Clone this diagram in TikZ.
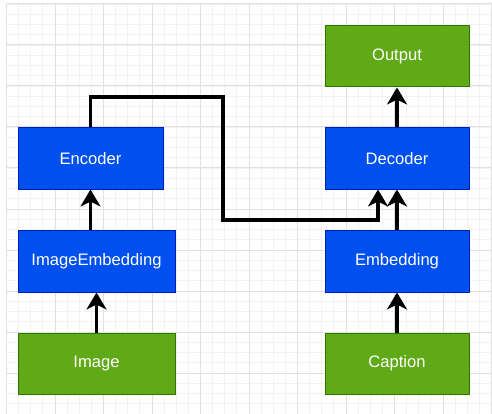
\documentclass[tikz,border=0pt]{standalone}
\usepackage{fontspec}
\setmainfont{Liberation Sans}
\usepackage{xcolor}
\usetikzlibrary{arrows.meta}

\definecolor{blockblue}{HTML}{0050EF}
\definecolor{blockblueline}{HTML}{001DBC}
\definecolor{blockgreen}{HTML}{60A917}
\definecolor{blockgreenline}{HTML}{2D7600}
\definecolor{gridmajor}{HTML}{E0E0E0}
\definecolor{gridminor}{HTML}{F2F2F2}

\tikzset{
  block/.style={draw, line width=1pt, text=white, inner sep=0pt,
    font=\fontsize{16.6}{19}\selectfont},
  bluebox/.style={block, fill=blockblue, draw=blockblueline},
  greenbox/.style={block, fill=blockgreen, draw=blockgreenline},
  flow/.style={line width=3.5pt, -{Stealth[length=17pt, width=20pt, inset=5pt]}}
}

\begin{document}
\begin{tikzpicture}[x=1pt, y=-1pt]

% Frame and background
\useasboundingbox (0,0) rectangle (492,414);
\fill[white] (0,0) rectangle (492,414);

% Draw grid
\foreach \i in {0,...,40} {
  \draw[gridminor, line width=0.8pt] ({6.5+12.125*\i},4) -- ({6.5+12.125*\i},414);
  \draw[gridminor, line width=0.8pt] (6.5,{4+10.25*\i}) -- (491.5,{4+10.25*\i});
}
\foreach \i in {0,...,10} {
  \draw[gridmajor, line width=1pt] ({6.5+48.5*\i},4) -- ({6.5+48.5*\i},414);
  \draw[gridmajor, line width=1pt] (6.5,{4+41*\i}) -- (491.5,{4+41*\i});
}

% Image branch
\node[greenbox, minimum width=157pt, minimum height=61pt] (image) at (96.5,363.5) {Image};
\node[bluebox, minimum width=157pt, minimum height=62pt] (imgemb) at (96.5,261) {ImageEmbedding};
\node[bluebox, minimum width=145pt, minimum height=61pt] (encoder) at (90.5,158.5) {Encoder};

% Caption branch
\node[greenbox, minimum width=144pt, minimum height=61pt] (caption) at (397,363.5) {Caption};
\node[bluebox, minimum width=144pt, minimum height=62pt] (embedding) at (397,261) {Embedding};
\node[bluebox, minimum width=144pt, minimum height=61pt] (decoder) at (397,158.5) {Decoder};
\node[greenbox, minimum width=144pt, minimum height=61pt] (output) at (397,56.5) {Output};

% Connectors
\draw[flow] (image.north) -- (imgemb.south);
\draw[flow] (encoder.south |- imgemb.north) -- (encoder.south);
\draw[flow] (caption.north) -- (embedding.south);
\draw[flow] (embedding.north) -- (decoder.south);
\draw[flow] (decoder.north) -- (output.south);

% Encoder output into decoder
\coordinate (over) at (223,97);
\coordinate (join) at (378,220);
\draw[flow] (encoder.north) |- (over) |- (join) -- (join |- decoder.south);

\end{tikzpicture}
\end{document}
